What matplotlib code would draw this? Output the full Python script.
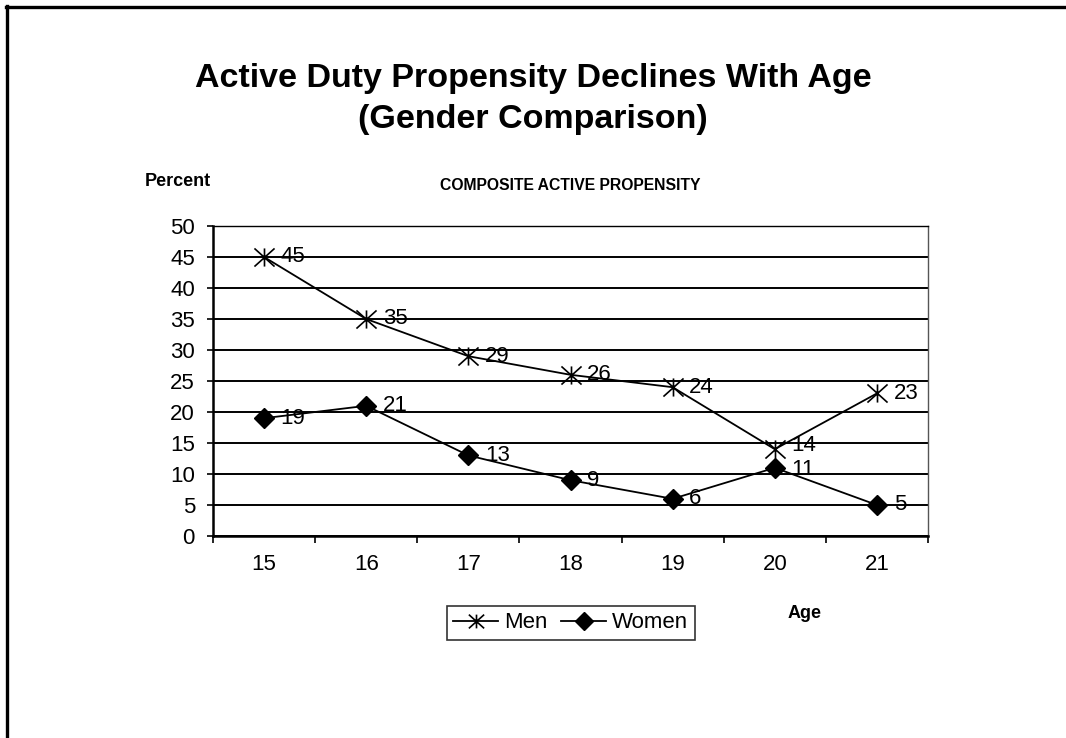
import numpy as np
import matplotlib
matplotlib.use('Agg')
import matplotlib.pyplot as plt
from matplotlib.path import Path
from matplotlib.lines import Line2D

plt.rcParams['font.family'] = ['Liberation Sans', 'DejaVu Sans']

ages = ['15', '16', '17', '18', '19', '20', '21']
men = [45, 35, 29, 26, 24, 14, 23]
women = [19, 21, 13, 9, 6, 11, 5]
yticks = [0, 5, 10, 15, 20, 25, 30, 35, 40, 45, 50]

# star marker: an X with a vertical stroke through it
star = Path([(-1, -0.9), (1, 0.9), (-1, 0.9), (1, -0.9), (0, -0.9), (0, 0.9)],
            [Path.MOVETO, Path.LINETO, Path.MOVETO, Path.LINETO, Path.MOVETO, Path.LINETO])

W, H = 1066, 738
fig = plt.figure(figsize=(W / 100, H / 100), dpi=100)

# slide frame (top and left edges only)
fig.add_artist(Line2D([6.5 / W, 6.5 / W], [0, 1 - 6 / H], color='black', lw=2.4))
fig.add_artist(Line2D([6 / W, 1], [1 - 6.5 / H, 1 - 6.5 / H], color='black', lw=2.4))

ax = fig.add_axes([213 / W, (H - 536) / H, 715 / W, 310 / H])
x = np.arange(len(ages))

ax.plot(x, men, color='black', lw=1.3, marker=star, markersize=14.5,
        markeredgewidth=1.2, markerfacecolor='none', markeredgecolor='black', zorder=3)
ax.plot(x, women, color='black', lw=1.3, marker='D', markersize=10.5,
        markerfacecolor='black', markeredgecolor='black', zorder=3)

for xi, v in zip(x, men):
    # the 20-year-old labels sit close together, lift the men's one a touch
    dy = 2.5 if xi == 5 else 0
    ax.annotate(str(v), (xi, v), xytext=(12, dy), textcoords='offset points',
                va='center', ha='left', fontsize=16, zorder=4)
for xi, v in zip(x, women):
    dy = -1 if xi == 5 else 0
    ax.annotate(str(v), (xi, v), xytext=(12, dy), textcoords='offset points',
                va='center', ha='left', fontsize=16, zorder=4)

ax.set_xlim(-0.5, len(ages) - 0.5)
ax.set_ylim(0, 50)
ax.set_yticks(yticks)
ax.set_yticklabels([str(t) for t in yticks], fontsize=16)
ax.yaxis.grid(True, color='black', lw=1.4)
ax.set_axisbelow(True)

# category labels sit between boundary ticks
ax.set_xticks(np.arange(-0.5, len(ages), 1.0))
ax.set_xticklabels([])
ax.set_xticks(x, minor=True)
ax.set_xticklabels(ages, minor=True, fontsize=16)
ax.tick_params(axis='x', which='minor', length=0, pad=13)
ax.tick_params(axis='x', which='major', length=5, width=1.2, direction='out')
ax.tick_params(axis='y', length=4, width=1.2, direction='out', pad=9)

for s in ['left', 'bottom']:
    ax.spines[s].set_linewidth(1.8)
ax.spines['top'].set_linewidth(1.0)
ax.spines['right'].set_linewidth(1.0)
ax.spines['right'].set_color('#555555')

fig.text(533 / W, 1 - 99 / H, 'Active Duty Propensity Declines With Age\n(Gender Comparison)',
         ha='center', va='center', fontsize=24.5, fontweight='bold', linespacing=1.42)
fig.text(145 / W, 1 - 181 / H, 'Percent', ha='left', va='center', fontsize=13, fontweight='bold')
fig.text(570 / W, 1 - 186 / H, 'COMPOSITE ACTIVE PROPENSITY', ha='center', va='center',
         fontsize=11.3, fontweight='bold')
fig.text(805 / W, 1 - 614 / H, 'Age', ha='center', va='center', fontsize=13, fontweight='bold')

handles = [Line2D([], [], color='black', lw=1.3, marker=star, markersize=11, markeredgewidth=1.2),
           Line2D([], [], color='black', lw=1.3, marker='D', markersize=9)]
leg = fig.legend(handles, ['Men', 'Women'], loc='center', ncol=2,
                 bbox_to_anchor=(571 / W, 1 - 623 / H), fontsize=16, frameon=True,
                 fancybox=False, edgecolor='black', handlelength=2.0, handletextpad=0.3,
                 columnspacing=0.6, borderpad=0.3, borderaxespad=0)
leg.get_frame().set_linewidth(1.2)

fig.savefig('out.png', dpi=100)
